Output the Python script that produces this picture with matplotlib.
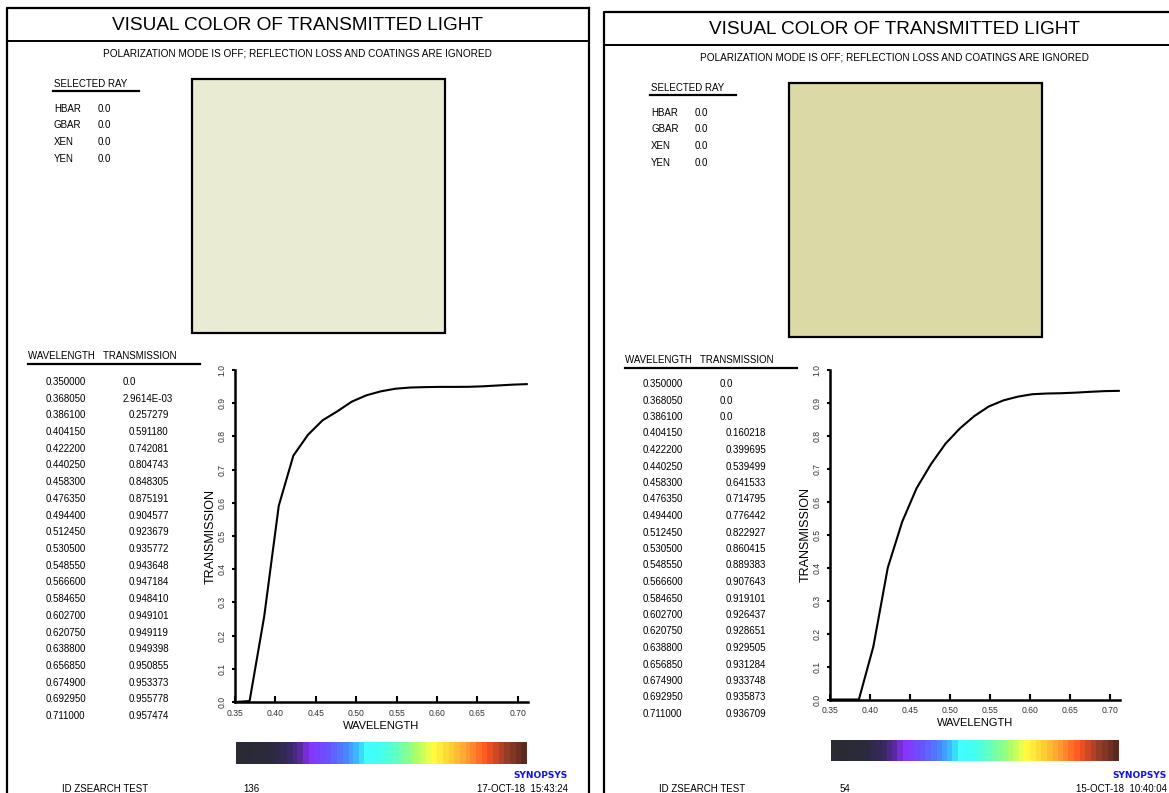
import matplotlib
matplotlib.use("Agg")
import matplotlib.pyplot as plt
import numpy as np
from matplotlib.colors import LinearSegmentedColormap
from matplotlib.patches import Rectangle

plt.rcParams["font.family"] = ["Liberation Sans", "DejaVu Sans"]

W, H = 1169, 793

wavelength = [0.350000, 0.368050, 0.386100, 0.404150, 0.422200, 0.440250, 0.458300,
              0.476350, 0.494400, 0.512450, 0.530500, 0.548550, 0.566600, 0.584650,
              0.602700, 0.620750, 0.638800, 0.656850, 0.674900, 0.692950, 0.711000]
transmission_left = [0.0, 2.9614e-03, 0.257279, 0.591180, 0.742081, 0.804743, 0.848305,
                     0.875191, 0.904577, 0.923679, 0.935772, 0.943648, 0.947184, 0.948410,
                     0.949101, 0.949119, 0.949398, 0.950855, 0.953373, 0.955778, 0.957474]
transmission_right = [0.0, 0.0, 0.0, 0.160218, 0.399695, 0.539499, 0.641533,
                      0.714795, 0.776442, 0.822927, 0.860415, 0.889383, 0.907643, 0.919101,
                      0.926437, 0.928651, 0.929505, 0.931284, 0.933748, 0.935873, 0.936709]
x_ticks = [0.35, 0.40, 0.45, 0.50, 0.55, 0.60, 0.65, 0.70]
y_ticks = [0.0, 0.1, 0.2, 0.3, 0.4, 0.5, 0.6, 0.7, 0.8, 0.9, 1.0]
ray_labels = ["HBAR", "GBAR", "XEN", "YEN"]
ray_values = ["0.0", "0.0", "0.0", "0.0"]
swatch_left = "#e9ebd3"
swatch_right = "#dbd9a6"
run_left = ("136", "17-OCT-18  15:43:24")
run_right = ("54", "15-OCT-18  10:40:04")

# banded visible spectrum used under the plot
spectrum = LinearSegmentedColormap.from_list(
    "spectrum",
    [(0.0, "#2a2b33"), (0.11, "#2c2a3e"), (0.17, "#36285e"), (0.22, "#5e2aa6"),
     (0.25, "#8a32ff"), (0.31, "#6a52ff"), (0.37, "#4a82ff"), (0.42, "#38c4ff"),
     (0.45, "#40ffff"), (0.50, "#44ffee"), (0.55, "#62ffc0"), (0.62, "#a2ff70"),
     (0.68, "#ffff40"), (0.74, "#ffd232"), (0.80, "#ff9c30"), (0.87, "#ff5522"),
     (0.93, "#a24028"), (1.0, "#5a2a22")],
    N=52,
)


def fmt_trans(v):
    if v == 0:
        return "0.0"
    if v < 0.01:
        return f"{v:.4E}"
    return f"{v:.6f}"


def draw_panel(fig, bg, ox, top, trans, swatch, run, plot_box, rows_y):
    # frame
    right = ox + 582 if ox < 300 else 1200
    bg.plot([ox, ox, right], [H + 10, top, top], color="black", lw=1.6)
    bg.plot([right, right], [top, H + 10], color="black", lw=1.6)
    bg.plot([ox, right], [top + 33, top + 33], color="black", lw=1.4)
    cx = ox + 290
    bg.text(cx, top + 17, "VISUAL COLOR OF TRANSMITTED LIGHT", ha="center", va="center",
            fontsize=13.7)
    bg.text(cx, top + 46, "POLARIZATION MODE IS OFF; REFLECTION LOSS AND COATINGS ARE IGNORED",
            ha="center", va="center", fontsize=7.2)

    # selected ray block
    sx = ox + 47
    bg.text(sx, top + 76, "SELECTED RAY", ha="left", va="center", fontsize=7)
    bg.plot([sx - 1, sx + 85], [top + 83, top + 83], color="black", lw=1.6)
    for i, (lab, val) in enumerate(zip(ray_labels, ray_values)):
        yy = top + 101 + i * 16.5
        bg.text(sx, yy, lab, ha="left", va="center", fontsize=7)
        bg.text(sx + 44, yy, val, ha="left", va="center", fontsize=7)

    # colour swatch
    bg.add_patch(Rectangle((ox + 185, top + 71), 253, 254, facecolor=swatch,
                           edgecolor="black", lw=1.6))

    # wavelength table
    tx = ox + 21
    bg.text(tx, top + 348, "WAVELENGTH   TRANSMISSION", ha="left", va="center", fontsize=7)
    bg.plot([tx, tx + 172], [top + 356, top + 356], color="black", lw=1.6)
    y0, y1 = rows_y
    step = (y1 - y0) / (len(wavelength) - 1)
    for i, (w, t) in enumerate(zip(wavelength, trans)):
        yy = y0 + i * step
        bg.text(tx + 18, yy, f"{w:.6f}", ha="left", va="center", fontsize=7)
        s = fmt_trans(t)
        xx = tx + 95 if (t == 0 or t < 0.01) else tx + 101
        bg.text(xx, yy, s, ha="left", va="center", fontsize=7)

    # transmission curve
    x0, yt, x1, yb = plot_box
    ax = fig.add_axes([x0 / W, 1 - yb / H, (x1 - x0) / W, (yb - yt) / H])
    ax.plot(wavelength, trans, color="black", lw=1.5)
    ax.set_xlim(0.35, 0.7125)
    ax.set_ylim(0.0, 1.0)
    ax.set_xticks(x_ticks)
    ax.set_xticklabels([f"{v:.2f}" for v in x_ticks])
    ax.set_yticks(y_ticks)
    ax.set_yticklabels([f"{v:.1f}" for v in y_ticks], rotation=90, va="center")
    ax.tick_params(axis="x", direction="in", length=4, width=1.5, labelsize=6.2, pad=5,
                   labelcolor="#333333")
    ax.tick_params(axis="y", direction="out", length=2, width=1.5, labelsize=6.2, pad=4,
                   labelcolor="#333333")
    for side in ("top", "right"):
        ax.spines[side].set_visible(False)
    for side in ("left", "bottom"):
        ax.spines[side].set_linewidth(1.8)
    ax.set_facecolor("none")
    ax.set_xlabel("WAVELENGTH", fontsize=8, labelpad=2)
    ax.set_ylabel("TRANSMISSION", fontsize=9, labelpad=1)

    # spectrum bar
    cb = fig.add_axes([(x0 + 1) / W, 1 - (yb + 62) / H, (x1 - x0 - 2) / W, 22 / H])
    cb.imshow(np.linspace(0, 1, 256)[None, :], aspect="auto", cmap=spectrum,
              interpolation="nearest")
    cb.axis("off")

    # footer
    bg.text(ox + 55, 789, "ID ZSEARCH TEST", ha="left", va="center", fontsize=7)
    bg.text(ox + 236, 789, run[0], ha="left", va="center", fontsize=7)
    rx = ox + 561 if ox < 300 else 1167
    bg.text(rx, 789, run[1], ha="right", va="center", fontsize=7)
    bg.text(rx, 776, "SYNOPSYS", ha="right", va="center", fontsize=6.5, color="#1010ee",
            fontweight="bold", family="DejaVu Sans")


def main():
    fig = plt.figure(figsize=(W / 100, H / 100), dpi=100)
    bg = fig.add_axes([0, 0, 1, 1])
    bg.set_xlim(0, W)
    bg.set_ylim(H, 0)
    bg.axis("off")

    draw_panel(fig, bg, 7, 8, transmission_left, swatch_left, run_left,
               (235, 370, 528, 702), (382, 716))
    draw_panel(fig, bg, 604, 12, transmission_right, swatch_right, run_right,
               (830, 370, 1120, 699.5), (384, 714))

    fig.savefig("out.png", dpi=100)
    plt.close(fig)


if __name__ == "__main__":
    main()
